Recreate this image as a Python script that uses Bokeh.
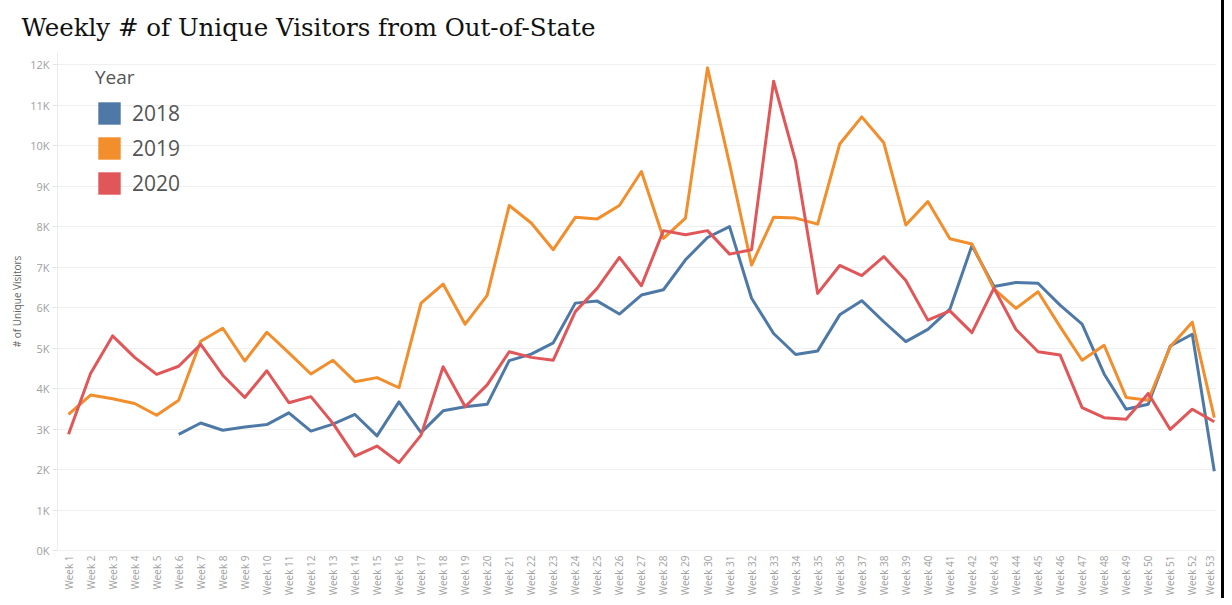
import math
from bokeh.plotting import figure
from bokeh.models import FixedTicker, Legend, LegendItem, Range1d
from bokeh.embed import file_html
from bokeh.resources import INLINE

nan = float("nan")

weeks = list(range(1, 54))
week_labels = [f"Week {w}" for w in weeks]
years = ["2018", "2019", "2020"]
colors = ["#4e79a7", "#f28e2b", "#e15759"]

visitors_2018 = [nan, nan, nan, nan, nan,
                 2870, 3150, 2970, 3050, 3110, 3400, 2950, 3120, 3360, 2830,
                 3670, 2910, 3450, 3550, 3610, 4690, 4850, 5130, 6110, 6160,
                 5840, 6310, 6440, 7180, 7730, 8000, 6230, 5360, 4840, 4930,
                 5820, 6170, 5650, 5160, 5460, 5960, 7530, 6520, 6620, 6600,
                 6060, 5590, 4360, 3490, 3610, 5050, 5340, 1960]
visitors_2019 = [3360, 3840, 3750, 3630, 3340, 3710, 5170, 5490, 4680, 5390,
                 4880, 4360, 4700, 4170, 4270, 4020, 6110, 6580, 5590, 6300,
                 8520, 8090, 7430, 8230, 8190, 8520, 9360, 7710, 8210, 11920,
                 9550, 7050, 8230, 8210, 8060, 10040, 10710, 10070, 8040, 8620,
                 7700, 7570, 6460, 5980, 6390, 5530, 4700, 5070, 3780, 3710,
                 5030, 5640, 3280]
visitors_2020 = [2870, 4370, 5300, 4770, 4350, 4550, 5090, 4330, 3780, 4440,
                 3650, 3800, 3140, 2330, 2580, 2170, 2850, 4540, 3550, 4090,
                 4910, 4770, 4700, 5900, 6480, 7240, 6540, 7900, 7800, 7900,
                 7320, 7430, 11590, 9610, 6350, 7040, 6790, 7260, 6670, 5690,
                 5920, 5380, 6480, 5460, 4910, 4830, 3530, 3280, 3240, 3880,
                 2990, 3490, 3180]
series = [visitors_2018, visitors_2019, visitors_2020]

y_ticks = list(range(0, 13000, 1000))
y_tick_labels = [f"{t // 1000}K" for t in y_ticks]

FONT = "Open Sans"

p = figure(frame_width=1159, frame_height=498, output_backend="svg",
           toolbar_location=None,
           x_range=Range1d(0.5, 53.1), y_range=Range1d(0, 12300),
           min_border_left=57, min_border_right=0, min_border_top=51,
           min_border_bottom=46, background_fill_color="white",
           border_fill_color="white", outline_line_color=None)
p.styles = {"outline": "3px solid black", "outline-offset": "5px",
            "clip-path": "inset(-12px -12px 0px -12px)"}

p.title.text = "Weekly # of Unique Visitors from Out-of-State"
p.title.text_font = "DejaVu Serif"
p.title.text_font_size = "24.5px"
p.title.text_font_style = "normal"
p.title.text_color = "#111111"
p.title.align = "left"
p.title.offset = -36
p.title.standoff = 21

for vals, c in zip(series, colors):
    p.line(weeks, vals, line_color=c, line_width=3, line_join="round")

# legend swatches (legend-only renderers, no visible data)
items = []
for yr, c in zip(years, colors):
    r = p.quad(left=[nan], right=[nan], top=[nan], bottom=[nan],
               fill_color=c, line_color=None)
    items.append(LegendItem(label=yr, renderers=[r]))

legend = Legend(items=items, location=(38, 353), title="Year",
                glyph_width=28, glyph_height=28, spacing=7, padding=5, margin=0,
                label_standoff=9, label_text_font=FONT, label_text_font_size="21px",
                label_text_color="#555555", title_text_font=FONT,
                title_text_font_size="19px", title_text_color="#555555",
                title_text_font_style="normal", title_standoff=9,
                background_fill_alpha=0, border_line_color=None)
p.add_layout(legend, "center")

# y axis
p.yaxis.ticker = FixedTicker(ticks=y_ticks)
p.yaxis.major_label_overrides = dict(zip(y_ticks, y_tick_labels))
p.yaxis.axis_label = "# of Unique Visitors"
p.yaxis.axis_label_text_font = FONT
p.yaxis.axis_label_text_font_size = "10px"
p.yaxis.axis_label_text_font_style = "normal"
p.yaxis.axis_label_text_color = "#666666"
p.yaxis.axis_label_standoff = 3
p.yaxis.major_label_text_font = FONT
p.yaxis.major_label_text_font_size = "11px"
p.yaxis.major_label_text_color = "#a0a0a0"
p.yaxis.axis_line_color = "#ececec"
p.yaxis.major_tick_line_color = "#e4e4e4"
p.yaxis.major_tick_out = 5
p.yaxis.major_tick_in = 0
p.yaxis.minor_tick_line_color = None
p.yaxis.major_label_standoff = 3

# x axis
p.xaxis.ticker = FixedTicker(ticks=weeks)
p.xaxis.major_label_overrides = dict(zip(weeks, week_labels))
p.xaxis.major_label_orientation = math.pi / 2
p.xaxis.major_label_text_font = FONT
p.xaxis.major_label_text_font_size = "10px"
p.xaxis.major_label_text_color = "#a0a0a0"
p.xaxis.axis_line_color = "#f0f0f0"
p.xaxis.major_tick_line_color = None
p.xaxis.minor_tick_line_color = None
p.xaxis.major_tick_out = 0
p.xaxis.major_label_standoff = 5

p.xgrid.grid_line_color = None
p.ygrid.grid_line_color = "#efefef"
p.ygrid.grid_line_width = 1

open("out.html", "w").write(file_html(p, INLINE))
